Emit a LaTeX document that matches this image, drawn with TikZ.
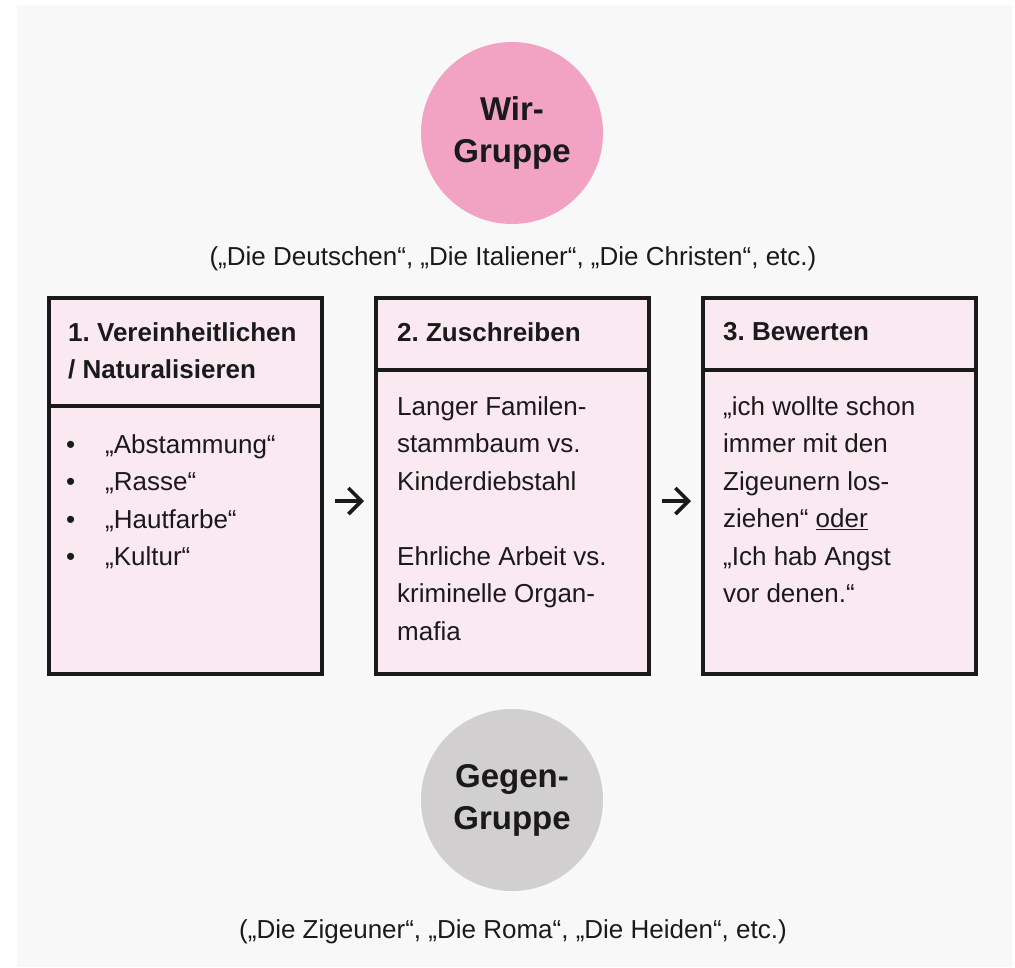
\documentclass[tikz,border=0pt]{standalone}
\usepackage{fontspec}
\setmainfont{Liberation Sans}
\usepackage{tikz}
\usetikzlibrary{arrows.meta}
\usetikzlibrary{calc}
\frenchspacing

\definecolor{wirpink}{RGB}{242,162,194}
\definecolor{kastenpink}{RGB}{251,233,241}
\definecolor{gegengrau}{RGB}{209,207,208}
\definecolor{hintergrund}{RGB}{248,248,248}
\definecolor{tinte}{RGB}{26,26,26}

\begin{document}
\begin{tikzpicture}[x=1pt, y=-1pt,
	gruppe/.style={circle, minimum size=182pt, inner sep=0pt, align=center, text=tinte, font=\fontsize{33}{42}\selectfont\bfseries},
	beispiele/.style={anchor=base, inner sep=0pt, text=tinte, font=\fontsize{26}{30}\selectfont},
	kasten/.style={draw=tinte, line width=4.5pt, fill=kastenpink, outer sep=0pt, inner sep=0pt, minimum width=273pt, minimum height=376pt},
	trenner/.style={draw=tinte, line width=4.5pt},
	kopf/.style={anchor=north west, inner sep=0pt, align=left, text=tinte, font=\fontsize{26}{37}\selectfont\bfseries},
	inhalt/.style={anchor=north west, inner sep=0pt, align=left, text=tinte, font=\fontsize{26}{37.5}\selectfont},
	pfeil/.style={draw=tinte, line width=3.6pt, -{Straight Barb[length=13pt, width=26pt]}}]
	\useasboundingbox (0,0) rectangle (1015,967);
	\fill[hintergrund] (17,5) rectangle (1012,967);

	\node[gruppe, fill=wirpink] (wir) at (512,133) {Wir-\\Gruppe};
	\node[beispiele] (wirbsp) at (513,265) {(„Die Deutschen“, „Die Italiener“, „Die Christen“, etc.)};

	\node[kasten] (b1) at (185.5,486) {};
	\node[kasten] (b2) at (512.5,486) {};
	\node[kasten] (b3) at (839.5,486) {};
	\draw[trenner] ([yshift=-108pt]b1.north west) -- ([yshift=-108pt]b1.north east);
	\draw[trenner] ([yshift=-72pt]b2.north west) -- ([yshift=-72pt]b2.north east);
	\draw[trenner] ([yshift=-72pt]b3.north west) -- ([yshift=-72pt]b3.north east);

	\node[kopf] (k1) at ($(b1.north west)+(19,24)$) {1. Vereinheitlichen\\/ Naturalisieren};
	\node[kopf] (k2) at ($(b2.north west)+(21,24)$) {2. Zuschreiben};
	\node[kopf] (k3) at ($(b3.north west)+(20,24)$) {3. Bewerten};

	\node[inhalt] (i1) at ($(b1.north west)+(17,136)$) {\makebox[39pt][l]{\textbullet}„Abstammung“\\\makebox[39pt][l]{\textbullet}„Rasse“\\\makebox[39pt][l]{\textbullet}„Hautfarbe“\\\makebox[39pt][l]{\textbullet}„Kultur“};
	\node[inhalt] (i2) at ($(b2.north west)+(21,98)$) {Langer Familen-\\stammbaum vs.\\Kinderdiebstahl\\[37.5pt]Ehrliche Arbeit vs.\\kriminelle Organ-\\mafia};
	\node[inhalt] (i3) at ($(b3.north west)+(20,98)$) {„ich wollte schon\\immer mit den\\Zigeunern los-\\ziehen“ \underline{oder}\\„Ich hab Angst\\vor denen.“};

	\draw[pfeil] ($(b1.east)+(13,15)$) -- ($(b2.west)+(-12,15)$);
	\draw[pfeil] ($(b2.east)+(13,15)$) -- ($(b3.west)+(-12,15)$);

	\node[gruppe, fill=gegengrau] (gegen) at (512,800) {Gegen-\\Gruppe};
	\node[beispiele] (gegenbsp) at (513,938) {(„Die Zigeuner“, „Die Roma“, „Die Heiden“, etc.)};
\end{tikzpicture}
\end{document}
